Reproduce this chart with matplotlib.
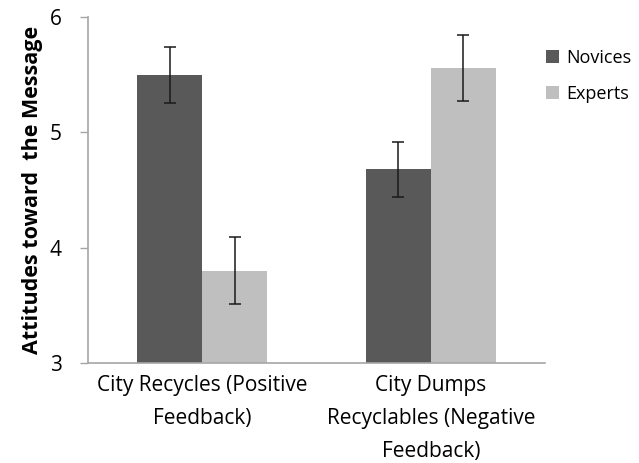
import matplotlib.pyplot as plt
import numpy as np

# data
categories = ['City Recycles (Positive\nFeedback)', 'City Dumps\nRecyclables (Negative\nFeedback)']
novices = [5.50, 4.68]
novices_err = [0.24, 0.24]
experts = [3.80, 5.56]
experts_err = [0.29, 0.29]

plt.rcParams['font.family'] = ['Open Sans', 'DejaVu Sans']

fig = plt.figure(figsize=(6.39, 4.63), dpi=100)
ax = fig.add_axes([0.1377, 0.2166, 0.853 - 0.1377, 0.9626 - 0.2166])

x = np.arange(len(categories)) + 0.5
w = 0.284
err_kw = dict(ecolor='#1a1a1a', elinewidth=1.1, capsize=4, capthick=1.1)
ax.bar(x - w / 2, novices, w, yerr=novices_err, color='#595959', label='Novices',
       error_kw=err_kw, zorder=2)
ax.bar(x + w / 2, experts, w, yerr=experts_err, color='#bfbfbf', label='Experts',
       error_kw=err_kw, zorder=2)

ax.set_xlim(0, 2)
ax.set_ylim(3, 6)
ax.set_yticks([3, 4, 5, 6])
ax.set_xticks(x)
ax.set_xticklabels(categories, fontsize=15, linespacing=1.75)
ax.tick_params(axis='x', length=0, pad=9)
ax.tick_params(axis='y', length=6, width=1, color='#a6a6a6', labelsize=15, pad=13)

for side in ['top', 'right']:
    ax.spines[side].set_visible(False)
for side in ['left', 'bottom']:
    ax.spines[side].set_color('#a6a6a6')
    ax.spines[side].set_linewidth(1.2)

ax.set_ylabel('Attitudes toward  the Message', fontsize=15.5, fontweight='bold', labelpad=5)

leg = ax.legend(loc='upper left', bbox_to_anchor=(0.843, 0.91), bbox_transform=fig.transFigure,
                frameon=False, fontsize=13, handlelength=0.7, handleheight=0.7,
                handletextpad=0.45, labelspacing=1.0, borderaxespad=0)

fig.savefig('out.png', dpi=100)
